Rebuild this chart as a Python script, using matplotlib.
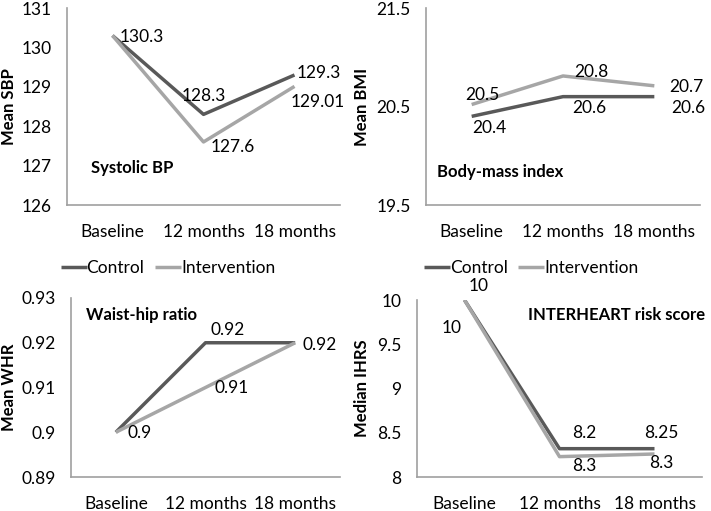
import matplotlib
matplotlib.use("Agg")
import numpy as np
import matplotlib.pyplot as plt
from matplotlib.ticker import FuncFormatter

plt.rcParams['font.family'] = ['Lato', 'DejaVu Sans']

W, H = 711, 511

categories = ['Baseline', '12 months', '18 months']

sbp_control = [130.3, 128.3, 129.3]
sbp_interv = [130.3, 127.6, 129.01]
sbp_labels_c = ['130.3', '128.3', '129.3']
sbp_labels_i = ['', '127.6', '129.01']

bmi_control = [20.4, 20.6, 20.6]
bmi_interv = [20.52, 20.81, 20.71]
bmi_labels_c = ['20.4', '20.6', '20.6']
bmi_labels_i = ['20.5', '20.8', '20.7']

whr_control = [0.90, 0.92, 0.92]
whr_interv = [0.90, 0.91, 0.92]
whr_labels_c = ['', '0.92', '0.92']
whr_labels_i = ['0.9', '0.91', '']

ihrs_control = [10.0, 8.32, 8.32]
ihrs_interv = [10.0, 8.23, 8.26]
ihrs_labels_c = ['10', '8.2', '8.25']
ihrs_labels_i = ['10', '8.3', '8.3']

C_DARK = '#595959'
C_LIGHT = '#a6a6a6'
C_AXIS = '#a0a0a0'
FS = 12.5


def make_axes(fig, left, top, right, bottom):
    return fig.add_axes([left / W, 1 - bottom / H, (right - left) / W, (bottom - top) / H])


def style_axes(ax, ylim, step, ylabel, ylabel_x):
    x = range(len(categories))
    ax.set_xlim(-0.5, len(categories) - 0.5)
    ax.set_ylim(*ylim)
    ax.set_yticks(np.arange(ylim[0], ylim[1] + step / 2, step))
    ax.yaxis.set_major_formatter(FuncFormatter(lambda v, p: f"{round(v, 4):g}"))
    ax.set_xticks(list(x))
    ax.set_xticklabels(categories)
    for s in ['top', 'right']:
        ax.spines[s].set_visible(False)
    for s in ['left', 'bottom']:
        ax.spines[s].set_color(C_AXIS)
        ax.spines[s].set_linewidth(1.2)
    ax.tick_params(axis='both', length=0, labelsize=FS, colors='black')
    ax.tick_params(axis='y', pad=11)
    ax.tick_params(axis='x', pad=13.5)
    ax.set_ylabel(ylabel, fontsize=12, fontweight='bold')
    ax.yaxis.set_label_coords(ylabel_x, 0.5)
    ax.patch.set_alpha(0)


def draw(ax, yc, yi, lc, li, offs_c, offs_i):
    x = range(len(categories))
    ax.plot(x, yc, color=C_DARK, lw=2.5, label='Control', solid_capstyle='butt')
    ax.plot(x, yi, color=C_LIGHT, lw=2.5, label='Intervention', solid_capstyle='butt')
    for xi, v, t, o in zip(x, yc, lc, offs_c):
        if t:
            ax.annotate(t, (xi, v), xytext=o, textcoords='offset pixels',
                        ha='center', va='center', fontsize=FS)
    for xi, v, t, o in zip(x, yi, li, offs_i):
        if t:
            ax.annotate(t, (xi, v), xytext=o, textcoords='offset pixels',
                        ha='center', va='center', fontsize=FS)


fig = plt.figure(figsize=(W / 100, H / 100), dpi=100)

# Systolic BP
ax1 = make_axes(fig, 67, 8, 340, 205)
draw(ax1, sbp_control, sbp_interv, sbp_labels_c, sbp_labels_i,
     [(29, -1), (0, 18), (24, 2)], [(0, 0), (29, -5), (23, -16)])
style_axes(ax1, (126, 131), 1, 'Mean SBP', -0.183)
ax1.text(0.088, 0.188, 'Systolic BP', transform=ax1.transAxes, fontsize=12,
         fontweight='bold', va='center', ha='left')

# BMI
ax2 = make_axes(fig, 426, 8, 700, 205)
draw(ax2, bmi_control, bmi_interv, bmi_labels_c, bmi_labels_i,
     [(18, -12), (26, -11), (34, -11)], [(11, 10), (28, 4), (32, -1)])
style_axes(ax2, (19.5, 21.5), 1, 'Mean BMI', -0.204)
ax2.text(0.04, 0.168, 'Body-mass index', transform=ax2.transAxes, fontsize=12,
         fontweight='bold', va='center', ha='left')

# Waist-hip ratio
ax3 = make_axes(fig, 71, 298, 340, 477)
draw(ax3, whr_control, whr_interv, whr_labels_c, whr_labels_i,
     [(0, 0), (22, 13), (24, -2)], [(24, -1), (26, 0), (0, 0)])
style_axes(ax3, (0.89, 0.93), 0.01, 'Mean WHR', -0.2)
ax3.text(0.056, 0.905, 'Waist-hip ratio', transform=ax3.transAxes, fontsize=12,
         fontweight='bold', va='center', ha='left')
ax3.legend(loc='center', bbox_to_anchor=(0.36, 1.168), ncol=2, frameon=False,
           handlelength=1.5, handletextpad=0.0, columnspacing=0.6, fontsize=FS)

# INTERHEART
ax4 = make_axes(fig, 417, 300, 702, 477)
draw(ax4, ihrs_control, ihrs_interv, ihrs_labels_c, ihrs_labels_i,
     [(14, 14), (25, 16), (7, 16)], [(-13, -28), (25, -9), (7, -9)])
style_axes(ax4, (8, 10), 0.5, 'Median IHRS', -0.165)
ax4.text(0.39, 0.915, 'INTERHEART risk score', transform=ax4.transAxes, fontsize=12,
         fontweight='bold', va='center', ha='left')
ax4.legend(loc='center', bbox_to_anchor=(0.4, 1.18), ncol=2, frameon=False,
           handlelength=1.5, handletextpad=0.0, columnspacing=0.6, fontsize=FS)

fig.savefig('out.png', dpi=100)
